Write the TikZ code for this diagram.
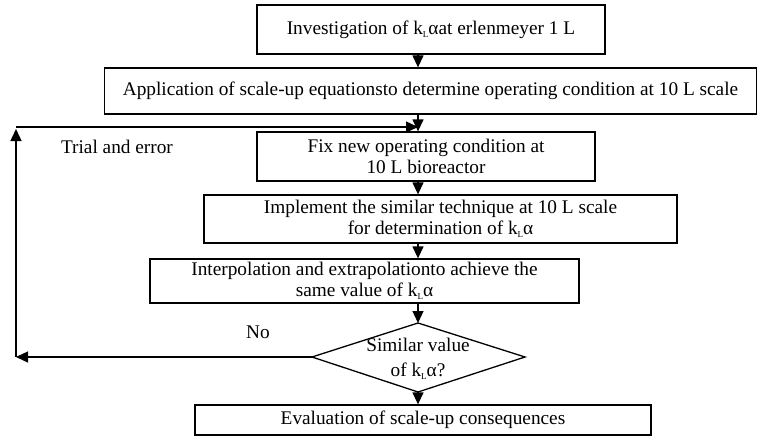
\documentclass[tikz,border=0pt]{standalone}
\usepackage{fontspec}
\setmainfont{Liberation Serif}
\usetikzlibrary{arrows.meta}
\newcommand{\kla}{k\raisebox{-0.35ex}{\fontsize{9}{9}\selectfont L}α}
\begin{document}
\begin{tikzpicture}[x=1pt,y=-1pt,
  every node/.style={font=\fontsize{19.3}{21}\selectfont},
  procbox/.style={draw, line width=1.3pt, inner sep=0pt, align=center},
  flow/.style={line width=1.3pt, -{Triangle[length=12pt,width=11pt]}},
  plain/.style={line width=1.3pt}]
\useasboundingbox (0,0) rectangle (758,436);
\coordinate (m) at (418,0);
\coordinate (fb) at (16,127);
\node[procbox, minimum width=348pt, minimum height=49pt] (b1) at (431,29.5) {Investigation of \kla at erlenmeyer 1 L};
\node[procbox, minimum width=652pt, minimum height=46pt] (b2) at (430.5,91) {Application of scale-up equationsto determine operating condition at 10 L scale};
\node[procbox, minimum width=338pt, minimum height=49pt] (b3) at (426,156.5) {Fix new operating condition at\\10 L bioreactor};
\node[procbox, minimum width=473pt, minimum height=48pt] (b4) at (440.5,219) {Implement the similar technique at 10 L scale\\for determination of \kla};
\node[procbox, minimum width=429pt, minimum height=44pt] (b5) at (364.5,281) {Interpolation and extrapolationto achieve the\\same value of \kla};
\coordinate (dn) at (418,323);
\coordinate (ds) at (418,392);
\coordinate (dw) at (312,357);
\coordinate (de) at (525,357);
\draw[plain, line join=miter] (dn) -- (de) -- (ds) -- (dw) -- cycle;
\node[align=center, inner sep=0pt, font=\fontsize{19.3}{25}\selectfont] (d) at (418,359) {Similar value\\of \kla?};
\node[procbox, minimum width=456pt, minimum height=30pt] (b6) at (423,420) {Evaluation of scale-up consequences};
\node (te) at (117,147) {Trial and error};
\node (no) at (258,332) {No};
\draw[flow] (b1.south -| m) -- (b2.north -| m);
\draw[flow] (b2.south -| m) -- (b3.north -| m);
\draw[flow] (b3.south -| m) -- (b4.north -| m);
\draw[flow] (b4.south -| m) -- (b5.north -| m);
\draw[flow] (b5.south -| m) -- (dn);
\draw[flow] (ds) -- (b6.north -| ds);
\draw[flow] (dw) -- (dw -| fb);
\draw[flow] (dw -| fb) -- ([yshift=-2pt]fb);
\draw[flow] (fb) -- (fb -| m);
\end{tikzpicture}
\end{document}
